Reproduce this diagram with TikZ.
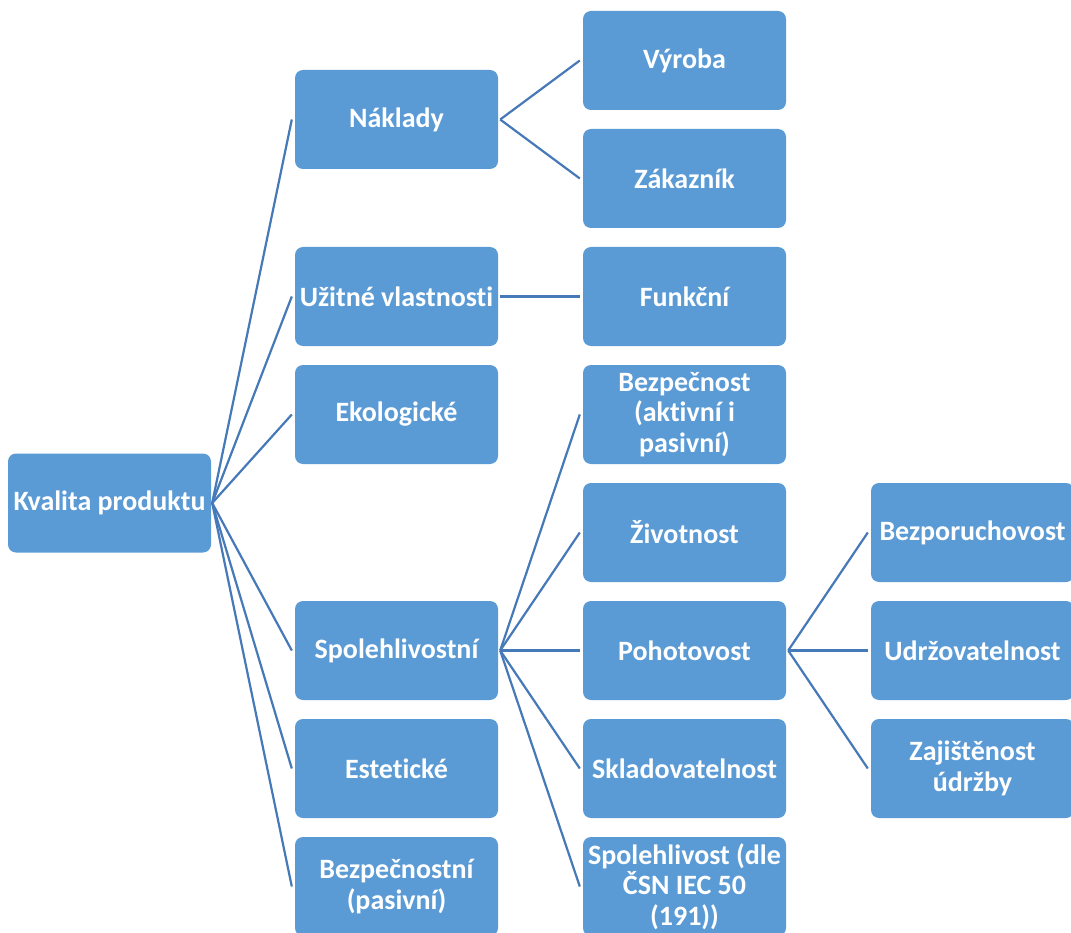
\documentclass[tikz,border=0pt]{standalone}
\usepackage{fontspec}
\setmainfont[Ligatures={NoCommon}]{Carlito}
\begin{document}
\begin{tikzpicture}[x=1pt,y=-1pt,
  box/.style={fill=boxblue, rounded corners=8pt, minimum width=203pt, minimum height=99pt,
    inner sep=2pt, text=white, font=\bfseries\fontsize{28}{30.5}\selectfont, align=center},
  link/.style={draw=linkblue, line width=2.2pt}]
\definecolor{boxblue}{HTML}{5B9BD5}
\definecolor{linkblue}{HTML}{4679B8}
\useasboundingbox (0,0) rectangle (1071,933);
\fill[white] (0,0) rectangle (1071,933);
\clip (0,0) rectangle (1071,933);

% root
\node[box] (root) at (109.5,503) {Kvalita produktu};

% first level
\node[box] (nak) at (396.5,119.5) {Náklady};
\node[box] (uzi) at (396.5,296.5) {Užitné vlastnosti};
\node[box] (eko) at (396.5,414.5) {Ekologické};
\node[box] (spo) at (396.5,650.5) {Spolehlivostní};
\node[box] (est) at (396.5,768.5) {Estetické};
\node[box] (bez) at (396.5,886.5) {Bezpečnostní\\(pasivní)};

% second level
\node[box] (vyr) at (684.5,60.5) {Výroba};
\node[box] (zak) at (684.5,178.5) {Zákazník};
\node[box] (fun) at (684.5,296.5) {Funkční};
\node[box] (bzp) at (684.5,414.5) {Bezpečnost\\(aktivní i\\pasivní)};
\node[box] (ziv) at (684.5,532.5) {Životnost};
\node[box] (poh) at (684.5,650.5) {Pohotovost};
\node[box] (skl) at (684.5,768.5) {Skladovatelnost};
\node[box] (sdl) at (684.5,886.5) {Spolehlivost (dle\\ČSN IEC 50\\(191))};

% third level
\node[box] (bpr) at (972.5,532.5) {Bezporuchovost};
\node[box] (udr) at (972.5,650.5) {Udržovatelnost};
\node[box] (zaj) at (972.5,768.5) {Zajištěnost\\údržby};

% connectors
\foreach \c in {nak,uzi,eko,spo,est,bez}
  \draw[link] ([xshift=1pt]root.east) -- ([xshift=-3pt]\c.west);
\foreach \p/\c in {nak/vyr,nak/zak,uzi/fun,spo/bzp,spo/ziv,spo/poh,spo/skl,spo/sdl,poh/bpr,poh/udr,poh/zaj}
  \draw[link] ([xshift=2pt]\p.east) -- ([xshift=-3pt]\c.west);
\end{tikzpicture}
\end{document}
